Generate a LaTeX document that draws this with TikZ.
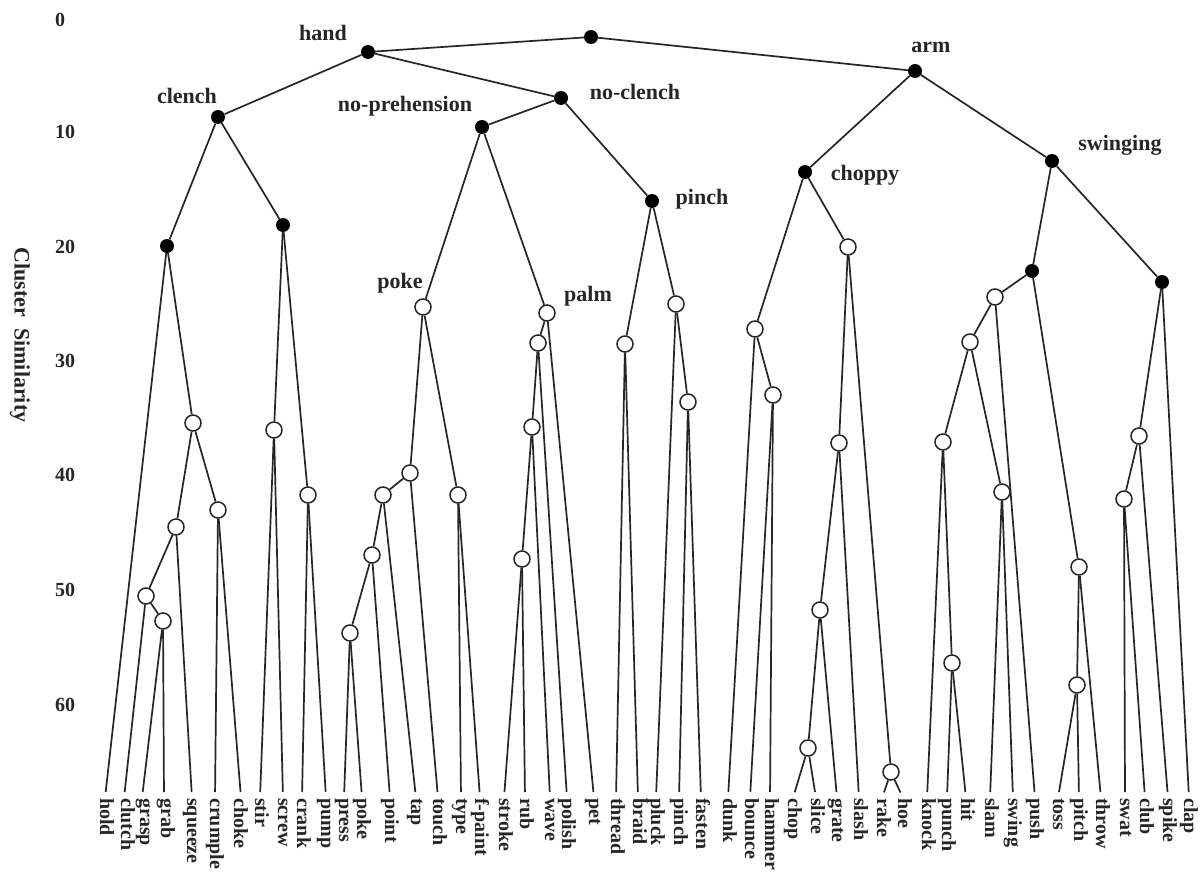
\documentclass[tikz,border=0pt]{standalone}
\usepackage{fontspec}
\setmainfont{Liberation Serif}
\begin{document}
\begin{tikzpicture}[x=1pt,y=-1pt]
\tikzset{
 edge/.style={line width=1.7pt, draw=black!85},
 leafedge/.style={edge, shorten >=6pt},
 fnode/.style={circle, fill=black, inner sep=0pt, minimum size=14pt},
 onode/.style={circle, draw=black!85, line width=1.5pt, fill=white, inner sep=0pt, minimum size=16pt},
 leaf/.style={rotate=-90, anchor=west, inner sep=0pt, text height=14pt, text depth=4pt, text=black!85, font=\fontsize{20}{20}\selectfont\bfseries},
 clab/.style={font=\fontsize{22}{22}\selectfont\bfseries, text=black!85, inner sep=0pt},
 axlab/.style={font=\fontsize{20}{20}\selectfont\bfseries, text=black!85, anchor=west, inner sep=0pt},
}
\fill[white] (0,0) rectangle (1203,872);
\useasboundingbox (0,0) rectangle (1203,872);

% axis
\node[axlab] (a0) at (55,20) {0};
\node[axlab] (a10) at (55,132) {10};
\node[axlab] (a20) at (55,247) {20};
\node[axlab] (a30) at (55,361) {30};
\node[axlab] (a40) at (55,475) {40};
\node[axlab] (a50) at (55,590) {50};
\node[axlab] (a60) at (55,705) {60};
\node[clab, rotate=-90] (ylab) at (20,335) {Cluster\ \ Similarity};

% filled nodes
\node[fnode] (root) at (591,37) {};
\node[fnode] (hand) at (368,52) {};
\node[fnode] (arm) at (915,71) {};
\node[fnode] (clench) at (218,117) {};
\node[fnode] (noclench) at (561,98) {};
\node[fnode] (noprehension) at (482,127) {};
\node[fnode] (pinchN) at (652,201) {};
\node[fnode] (choppy) at (805,172) {};
\node[fnode] (swinging) at (1052,161) {};
\node[fnode] (cl) at (167,246) {};
\node[fnode] (cr) at (283,225) {};
\node[fnode] (swl) at (1032,271) {};
\node[fnode] (swr) at (1162,282) {};

% open nodes
\node[onode] (o1) at (193,423) {};
\node[onode] (o2) at (218,510) {};
\node[onode] (o3) at (176,527) {};
\node[onode] (o4) at (146,596) {};
\node[onode] (o5) at (163,621) {};
\node[onode] (o6) at (274,430) {};
\node[onode] (o7) at (308,495) {};
\node[onode] (pokeN) at (423,307) {};
\node[onode] (k1) at (410,473) {};
\node[onode] (k2) at (458,495) {};
\node[onode] (k3) at (383,495) {};
\node[onode] (k4) at (372,555) {};
\node[onode] (k5) at (350,633) {};
\node[onode] (palmN) at (547,313) {};
\node[onode] (p2) at (538,343) {};
\node[onode] (p3) at (532,427) {};
\node[onode] (p4) at (522,559) {};
\node[onode] (q1) at (625,344) {};
\node[onode] (q2) at (676,304) {};
\node[onode] (q3) at (688,402) {};
\node[onode] (c1) at (755,329) {};
\node[onode] (c2) at (773,395) {};
\node[onode] (c3) at (848,247) {};
\node[onode] (c4) at (839,443) {};
\node[onode] (c5) at (820,610) {};
\node[onode] (c6) at (808,748) {};
\node[onode] (c7) at (891,772) {};
\node[onode] (s1) at (995,297) {};
\node[onode] (s2) at (970,342) {};
\node[onode] (s3) at (943,442) {};
\node[onode] (s4) at (1002,492) {};
\node[onode] (s5) at (1079,567) {};
\node[onode] (s6) at (952,663) {};
\node[onode] (s7) at (1077,685) {};
\node[onode] (s8) at (1139,436) {};
\node[onode] (s9) at (1124,499) {};

% cluster labels
\node[clab] (thand) at (323,33) {hand};
\node[clab] (tclench) at (187,96) {clench};
\node[clab] (tnopre) at (405,106) {no-prehension};
\node[clab] (tnocl) at (635,92) {no-clench};
\node[clab] (tpinch) at (702,199) {pinch};
\node[clab] (tpoke) at (400,283) {poke};
\node[clab] (tpalm) at (588,296) {palm};
\node[clab] (tarm) at (931,47) {arm};
\node[clab] (tchoppy) at (865,175) {choppy};
\node[clab] (tswing) at (1120,145) {swinging};

% leaves
\node[leaf] (Lhold) at (105,798) {hold};
\node[leaf] (Lclutch) at (126,798) {clutch};
\node[leaf] (Lgrasp) at (145,798) {grasp};
\node[leaf] (Lgrab) at (166,798) {grab};
\node[leaf] (Lsqueeze) at (192,798) {squeeze};
\node[leaf] (Lcrumple) at (215,798) {crumple};
\node[leaf] (Lchoke) at (239,798) {choke};
\node[leaf] (Lstir) at (260,798) {stir};
\node[leaf] (Lscrew) at (283,798) {screw};
\node[leaf] (Lcrank) at (302,798) {crank};
\node[leaf] (Lpump) at (326,798) {pump};
\node[leaf] (Lpress) at (344,798) {press};
\node[leaf] (Lpoke) at (362,798) {poke};
\node[leaf] (Lpoint) at (390,798) {point};
\node[leaf] (Ltap) at (416,798) {tap};
\node[leaf] (Ltouch) at (438,798) {touch};
\node[leaf] (Ltype) at (461,798) {type};
\node[leaf] (Lfpaint) at (480,798) {f-paint};
\node[leaf] (Lstroke) at (504,798) {stroke};
\node[leaf] (Lrub) at (525,798) {rub};
\node[leaf] (Lwave) at (550,798) {wave};
\node[leaf] (Lpolish) at (567,798) {polish};
\node[leaf] (Lpet) at (594,798) {pet};
\node[leaf] (Lthread) at (616,798) {thread};
\node[leaf] (Lbraid) at (638,798) {braid};
\node[leaf] (Lpluck) at (656,798) {pluck};
\node[leaf] (Lpinch) at (679,798) {pinch};
\node[leaf] (Lfasten) at (701,798) {fasten};
\node[leaf] (Ldunk) at (728,798) {dunk};
\node[leaf] (Lbounce) at (750,798) {bounce};
\node[leaf] (Lhammer) at (770,798) {hammer};
\node[leaf] (Lchop) at (793,798) {chop};
\node[leaf] (Lslice) at (816,798) {slice};
\node[leaf] (Lgrate) at (837,798) {grate};
\node[leaf] (Lslash) at (859,798) {slash};
\node[leaf] (Lrake) at (882,798) {rake};
\node[leaf] (Lhoe) at (903,798) {hoe};
\node[leaf] (Lknock) at (927,798) {knock};
\node[leaf] (Lpunch) at (947,798) {punch};
\node[leaf] (Lhit) at (966,798) {hit};
\node[leaf] (Lslam) at (990,798) {slam};
\node[leaf] (Lswing) at (1013,798) {swing};
\node[leaf] (Lpush) at (1035,798) {push};
\node[leaf] (Ltoss) at (1058,798) {toss};
\node[leaf] (Lpitch) at (1079,798) {pitch};
\node[leaf] (Lthrow) at (1101,798) {throw};
\node[leaf] (Lswat) at (1125,798) {swat};
\node[leaf] (Lclub) at (1145,798) {club};
\node[leaf] (Lspike) at (1168,798) {spike};
\node[leaf] (Lclap) at (1189,798) {clap};

% internal edges
\draw[edge] (root) -- (hand);
\draw[edge] (root) -- (arm);
\draw[edge] (hand) -- (clench);
\draw[edge] (hand) -- (noclench);
\draw[edge] (clench) -- (cl);
\draw[edge] (clench) -- (cr);
\draw[edge] (cl) -- (o1);
\draw[edge] (o1) -- (o3);
\draw[edge] (o1) -- (o2);
\draw[edge] (o3) -- (o4);
\draw[edge] (o4) -- (o5);
\draw[edge] (cr) -- (o6);
\draw[edge] (cr) -- (o7);
\draw[edge] (noclench) -- (noprehension);
\draw[edge] (noclench) -- (pinchN);
\draw[edge] (noprehension) -- (pokeN);
\draw[edge] (noprehension) -- (palmN);
\draw[edge] (pokeN) -- (k1);
\draw[edge] (pokeN) -- (k2);
\draw[edge] (k1) -- (k3);
\draw[edge] (k3) -- (k4);
\draw[edge] (k4) -- (k5);
\draw[edge] (palmN) -- (p2);
\draw[edge] (p2) -- (p3);
\draw[edge] (p3) -- (p4);
\draw[edge] (pinchN) -- (q1);
\draw[edge] (pinchN) -- (q2);
\draw[edge] (q2) -- (q3);
\draw[edge] (arm) -- (choppy);
\draw[edge] (arm) -- (swinging);
\draw[edge] (choppy) -- (c1);
\draw[edge] (choppy) -- (c3);
\draw[edge] (c1) -- (c2);
\draw[edge] (c3) -- (c4);
\draw[edge] (c3) -- (c7);
\draw[edge] (c4) -- (c5);
\draw[edge] (c5) -- (c6);
\draw[edge] (swinging) -- (swl);
\draw[edge] (swinging) -- (swr);
\draw[edge] (swl) -- (s1);
\draw[edge] (swl) -- (s5);
\draw[edge] (s1) -- (s2);
\draw[edge] (s2) -- (s3);
\draw[edge] (s2) -- (s4);
\draw[edge] (s3) -- (s6);
\draw[edge] (s5) -- (s7);
\draw[edge] (swr) -- (s8);
\draw[edge] (s8) -- (s9);

% leaf edges
\draw[leafedge] (cl) -- (Lhold.west);
\draw[leafedge] (o3) -- (Lsqueeze.west);
\draw[leafedge] (o4) -- ([xshift=-2pt]Lclutch.west);
\draw[leafedge] (o5) -- ([xshift=-3pt]Lgrasp.west);
\draw[leafedge] (o5) -- ([xshift=-2pt]Lgrab.west);
\draw[leafedge] (o2) -- (Lcrumple.west);
\draw[leafedge] (o2) -- ([xshift=2pt]Lchoke.west);
\draw[leafedge] (o6) -- (Lstir.west);
\draw[leafedge] (o6) -- (Lscrew.west);
\draw[leafedge] (o7) -- (Lcrank.west);
\draw[leafedge] (o7) -- (Lpump.west);
\draw[leafedge] (k1) -- (Ltouch.west);
\draw[leafedge] (k3) -- (Ltap.west);
\draw[leafedge] (k4) -- (Lpoint.west);
\draw[leafedge] (k5) -- (Lpress.west);
\draw[leafedge] (k5) -- (Lpoke.west);
\draw[leafedge] (k2) -- (Ltype.west);
\draw[leafedge] (k2) -- (Lfpaint.west);
\draw[leafedge] (palmN) -- (Lpet.west);
\draw[leafedge] (p2) -- (Lpolish.west);
\draw[leafedge] (p3) -- (Lwave.west);
\draw[leafedge] (p4) -- (Lstroke.west);
\draw[leafedge] (p4) -- (Lrub.west);
\draw[leafedge] (q1) -- (Lthread.west);
\draw[leafedge] (q1) -- (Lbraid.west);
\draw[leafedge] (q2) -- (Lpluck.west);
\draw[leafedge] (q3) -- (Lpinch.west);
\draw[leafedge] (q3) -- (Lfasten.west);
\draw[leafedge] (c1) -- (Ldunk.west);
\draw[leafedge] (c2) -- (Lbounce.west);
\draw[leafedge] (c2) -- (Lhammer.west);
\draw[leafedge] (c4) -- (Lslash.west);
\draw[leafedge] (c5) -- (Lgrate.west);
\draw[leafedge] (c6) -- (Lchop.west);
\draw[leafedge] (c6) -- (Lslice.west);
\draw[leafedge] (c7) -- (Lrake.west);
\draw[leafedge] (c7) -- (Lhoe.west);
\draw[leafedge] (s1) -- (Lpush.west);
\draw[leafedge] (s3) -- (Lknock.west);
\draw[leafedge] (s6) -- (Lpunch.west);
\draw[leafedge] (s6) -- (Lhit.west);
\draw[leafedge] (s4) -- (Lslam.west);
\draw[leafedge] (s4) -- (Lswing.west);
\draw[leafedge] (s5) -- (Lthrow.west);
\draw[leafedge] (s7) -- (Ltoss.west);
\draw[leafedge] (s7) -- (Lpitch.west);
\draw[leafedge] (swr) -- (Lclap.west);
\draw[leafedge] (s8) -- (Lspike.west);
\draw[leafedge] (s9) -- (Lswat.west);
\draw[leafedge] (s9) -- (Lclub.west);
\end{tikzpicture}
\end{document}
